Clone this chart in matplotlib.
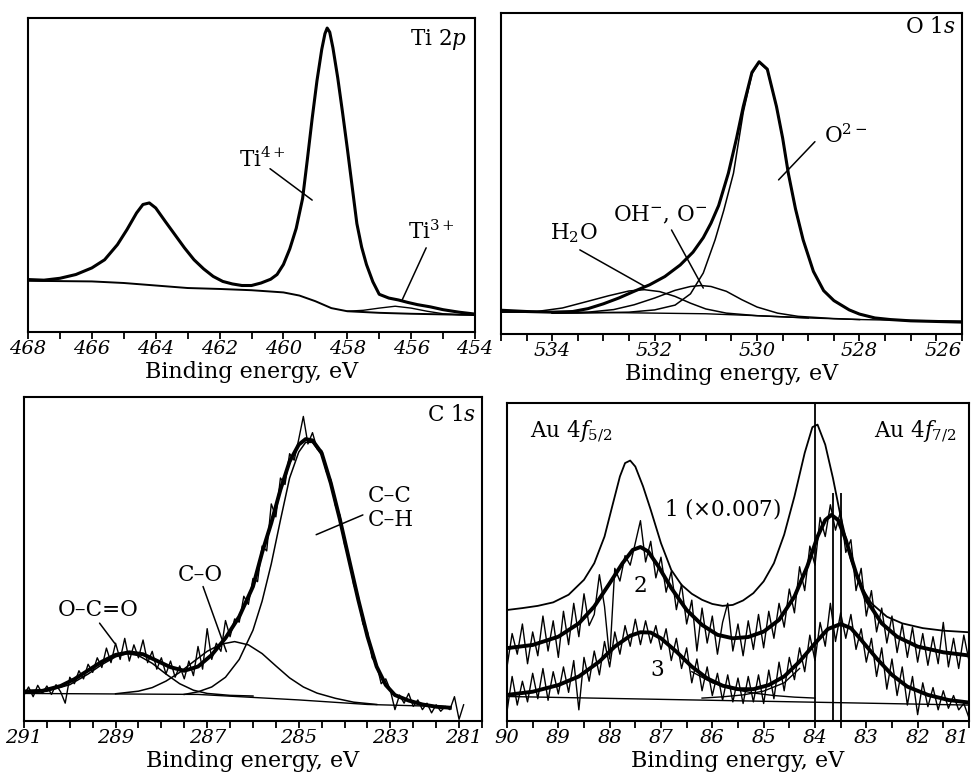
import numpy as np
import matplotlib
matplotlib.use('Agg')
import matplotlib.pyplot as plt

plt.rcParams['font.family'] = 'DejaVu Serif'
plt.rcParams['mathtext.fontset'] = 'dejavuserif'

# ---------------- Ti 2p ----------------
ti_be = [468, 467.5, 467, 466.5, 466, 465.6, 465.2, 464.9, 464.6, 464.4, 464.2, 464.0,
         463.7, 463.4, 463.1, 462.8, 462.5, 462.2, 461.9, 461.6, 461.3, 461.0, 460.7,
         460.4, 460.2, 460.0, 459.8, 459.6, 459.4, 459.25, 459.1, 458.95, 458.8, 458.7,
         458.63, 458.55, 458.45, 458.3, 458.15, 458.0, 457.85, 457.7, 457.55, 457.4,
         457.2, 457.0, 456.7, 456.4, 456.1, 455.8, 455.4, 455.0, 454.5, 454.0]
ti_env = [16.7, 16.5, 17.1, 18.3, 20.4, 23.0, 27.8, 32.6, 37.9, 40.6, 41.1, 39.5,
          35.2, 31.0, 26.8, 23.0, 20.1, 17.7, 16.1, 15.3, 14.8, 14.8, 15.6,
          16.8, 18.3, 21.5, 26.5, 33.0, 42.5, 55.0, 68.0, 80.0, 90.0, 95.0,
          96.8, 95.5, 90.5, 81.0, 70.0, 58.5, 46.5, 34.5, 27.0, 21.5,
          16.0, 12.0, 10.8, 10.2, 9.4, 8.7, 8.0, 7.1, 6.3, 5.7]
ti_bg_be = [468, 466, 465, 464, 463, 462, 461, 460, 459.5, 459.0, 458.5, 458.0, 457.0, 456.0, 455.0, 454.0]
ti_bg = [16.3, 16.1, 15.6, 14.8, 14.0, 13.7, 13.3, 12.6, 11.6, 9.8, 7.6, 6.6, 6.1, 5.8, 5.6, 5.4]
ti3_be = [458.0, 457.5, 457.0, 456.5, 456.0, 455.5, 455.0, 454.5, 454.0]
ti3 = [6.6, 6.9, 7.6, 8.2, 7.6, 6.6, 5.8, 5.5, 5.4]
ti_ticks = [468, 466, 464, 462, 460, 458, 456, 454]

# ---------------- O 1s ----------------
o_be = [535.0, 534.5, 534.0, 533.6, 533.3, 533.0, 532.7, 532.4, 532.1, 531.8, 531.5,
        531.25, 531.05, 530.9, 530.75, 530.56, 530.4, 530.27, 530.1, 529.96, 529.8,
        529.62, 529.5, 529.39, 529.25, 529.1, 528.9, 528.7, 528.5, 528.2, 528.0, 527.7,
        527.4, 527.0, 526.5, 526.0]
o_env = [7.4, 7.0, 6.8, 7.0, 7.9, 9.4, 11.2, 13.3, 15.3, 17.9, 21.5,
         25.5, 30.0, 34.5, 40.0, 50.1, 61.0, 70.8, 81.5, 84.8, 82.5,
         70.8, 61.0, 50.1, 39.0, 29.3, 19.5, 13.5, 10.4, 7.5, 6.2, 5.0,
         4.5, 4.1, 3.9, 3.7]
o2_be = [534.0, 533.5, 532.5, 532.0, 531.6, 531.3, 531.05, 530.82, 530.65, 530.46,
         530.27, 530.1, 529.96, 529.8, 529.62, 529.5, 529.39, 529.25, 529.1, 528.9,
         528.7, 528.5, 528.2, 528.0, 527.7]
o2 = [6.5, 6.5, 6.8, 7.5, 9.0, 12.5, 19.0, 29.3, 38.5, 50.1,
      69.0, 81.0, 84.6, 82.3, 70.8, 61.0, 50.1, 39.0, 29.3, 19.5,
      13.5, 10.4, 7.5, 6.2, 5.0]
oh_be = [534.0, 533.3, 532.8, 532.4, 532.0, 531.6, 531.3, 531.1, 530.9, 530.6, 530.3,
         530.0, 529.6, 529.2, 528.5, 528.0]
oh = [6.5, 6.8, 7.6, 9.1, 11.2, 13.6, 14.8, 15.1, 14.8, 13.3, 10.7, 8.4, 6.5, 5.5, 4.8, 4.5]
h2o_be = [535.0, 534.3, 533.8, 533.3, 532.9, 532.5, 532.2, 531.9, 531.6, 531.3, 531.0,
          530.6, 530.0, 529.0]
h2o = [6.8, 7.0, 8.1, 10.2, 11.9, 13.4, 13.8, 13.2, 11.7, 9.6, 7.8, 6.5, 5.7, 5.0]
o_bg_be = [535, 533, 531, 530, 529, 528, 527, 526]
o_bg = [6.8, 6.7, 6.3, 5.7, 5.0, 4.5, 4.2, 4.0]
o_ticks = [534, 532, 530, 528, 526]

# ---------------- C 1s ----------------
c_be = np.linspace(291.0, 281.4, 97)
c_counts = [8.0, 10.5, 7.5, 11.0, 8.5, 10.8, 8.2, 11.2, 9.0, 5.5,
            13.5, 11.5, 15.5, 13.0, 17.5, 15.0, 19.5, 16.5, 22.5, 18.0,
            24.0, 19.0, 25.5, 18.5, 23.5, 19.5, 25.0, 18.0, 21.5, 16.0,
            19.5, 14.5, 18.5, 13.5, 17.0, 13.0, 18.5, 14.0, 23.0, 16.0,
            28.5, 19.0, 24.0, 21.5, 31.0, 26.0, 31.5, 30.5, 38.5, 36.0,
            44.0, 43.0, 54.0, 52.5, 67.0, 63.0, 75.0, 73.0, 82.5, 80.5,
            87.0, 94.0, 85.5, 89.0, 84.0, 83.5, 77.0, 74.5, 66.5, 63.5,
            54.5, 50.5, 42.0, 38.5, 30.0, 27.5, 19.5, 17.5, 11.5, 13.0,
            9.5, 3.5, 8.0, 5.5, 8.5, 4.5, 6.5, 3.5, 5.5, 2.5,
            5.0, 3.0, 4.5, 3.5, 7.5, 0.5, 5.0]
c_env_be = [291.0, 290.6, 290.2, 289.9, 289.6, 289.3, 289.0, 288.7, 288.4, 288.1, 287.8,
            287.5, 287.2, 286.9, 286.6, 286.3, 286.0, 285.8, 285.6, 285.4, 285.2, 285.0,
            284.85, 284.7, 284.5, 284.3, 284.1, 283.9, 283.7, 283.5, 283.3, 283.1, 282.9,
            282.6, 282.3, 282.0, 281.7]
c_env = [9.1, 9.3, 10.8, 12.9, 15.6, 18.3, 20.4, 21.2, 20.6, 18.6, 16.6,
         15.5, 16.8, 20.4, 25.6, 32.2, 41.5, 52.0, 61.1, 71.4, 80.1, 85.3,
         87.0, 86.6, 82.7, 73.4, 62.1, 49.7, 37.4, 26.1, 16.8, 11.1, 8.0,
         6.3, 5.1, 4.4, 4.1]
c_bg_be = [291.0, 287.2, 285.0, 283.5, 281.7]
c_bg = [8.5, 8.2, 6.5, 5.1, 4.4]
oco_be = [291.0, 290.5, 290.0, 289.6, 289.3, 289.0, 288.75, 288.5, 288.2, 287.9, 287.6,
          287.3, 287.0, 286.5, 286.0]
oco = [8.7, 9.2, 11.2, 14.5, 17.4, 19.8, 20.8, 20.2, 17.8, 14.5, 11.5, 9.5, 8.5, 7.9, 7.7]
co_be = [289.0, 288.5, 288.2, 287.9, 287.6, 287.3, 287.0, 286.7, 286.4, 286.1, 285.8,
         285.5, 285.2, 284.9, 284.6, 284.2, 283.8, 283.3]
co = [8.4, 9.2, 10.3, 12.3, 15.0, 18.3, 21.5, 23.7, 24.5, 23.5, 20.8,
      17.0, 13.3, 10.5, 8.6, 7.0, 5.8, 5.1]
cc_be = [287.5, 287.2, 286.9, 286.6, 286.3, 286.0, 285.8, 285.6, 285.4, 285.2, 285.0,
         284.85, 284.7, 284.5, 284.3, 284.1, 283.9, 283.7, 283.5, 283.3, 283.1, 282.9,
         282.6, 282.3, 281.8]
cc = [8.2, 9.0, 10.5, 13.5, 19.0, 28.0, 37.0, 48.5, 62.0, 75.0, 83.0,
      86.0, 86.0, 82.2, 73.0, 61.8, 49.5, 37.2, 26.0, 16.6, 11.0, 7.9,
      6.2, 5.0, 4.4]
c_ticks = [291, 289, 287, 285, 283, 281]

# ---------------- Au 4f ----------------
au1_be = [90.0, 89.7, 89.4, 89.1, 88.8, 88.5, 88.3, 88.1, 87.95, 87.8, 87.7, 87.6, 87.5,
          87.35, 87.2, 87.0, 86.8, 86.6, 86.4, 86.2, 86.0, 85.8, 85.6, 85.4, 85.2, 85.0,
          84.8, 84.6, 84.4, 84.2, 84.05, 83.95, 83.8, 83.65, 83.5, 83.3, 83.1, 82.9,
          82.6, 82.3, 81.9, 81.5, 81.0]
au1 = [34.9, 35.5, 36.2, 37.3, 39.7, 44.4, 49.6, 58.0, 67.5, 76.9, 81.1, 81.9, 80.0,
       73.8, 66.4, 55.9, 47.5, 42.8, 40.0, 38.1, 36.8, 36.2, 36.5, 37.9, 40.2, 43.9,
       49.6, 58.6, 70.6, 84.3, 92.4, 93.2, 86.9, 76.4, 64.3, 50.7, 42.3, 37.0,
       32.8, 30.7, 29.2, 28.4, 27.9]
au2_be = [90.0, 89.5, 89.0, 88.6, 88.3, 88.0, 87.75, 87.55, 87.4, 87.25, 87.05, 86.8,
          86.5, 86.2, 85.9, 85.6, 85.3, 85.0, 84.7, 84.4, 84.15, 83.95, 83.8, 83.68,
          83.55, 83.4, 83.2, 83.0, 82.7, 82.4, 82.0, 81.5, 81.0]
au2_fit = [22.9, 23.9, 26.5, 30.7, 36.0, 43.3, 49.6, 53.8, 54.7, 53.3, 48.6, 41.8,
           34.9, 30.2, 27.1, 26.0, 26.4, 28.1, 31.8, 39.1, 48.6, 58.0, 63.2, 64.8,
           63.2, 57.0, 46.5, 38.1, 30.7, 26.5, 23.4, 21.6, 20.6]
au3_be = [90.0, 89.5, 89.0, 88.6, 88.2, 87.9, 87.6, 87.4, 87.2, 87.0, 86.7, 86.4, 86.1,
          85.8, 85.5, 85.2, 84.9, 84.6, 84.3, 84.0, 83.75, 83.5, 83.3, 83.1, 82.8, 82.5,
          82.2, 81.8, 81.4, 81.0]
au3_fit = [8.2, 9.2, 11.3, 14.0, 18.7, 23.4, 26.8, 27.9, 27.8, 26.0, 21.8, 17.1, 13.4,
           11.1, 10.0, 10.0, 11.3, 14.0, 18.7, 24.4, 28.9, 30.5, 29.2, 25.5, 19.7, 14.5,
           10.8, 8.2, 6.6, 5.8]
au_grid = np.linspace(90.0, 81.0, 91)
au2_counts = [17.0, 27.5, 21.0, 30.5, 18.0, 28.0, 20.5, 33.0, 22.0, 31.5,
              20.0, 34.5, 24.0, 37.0, 26.5, 40.0, 30.0, 33.5, 46.0, 36.0,
              19.5, 48.0, 44.0, 52.0, 49.0, 56.0, 63.0, 50.0, 56.5, 45.0,
              51.5, 40.5, 47.0, 35.0, 43.0, 30.5, 38.0, 22.0, 35.5, 24.5,
              33.0, 21.0, 31.0, 37.0, 22.0, 30.5, 20.5, 31.5, 22.5, 33.5,
              23.0, 34.5, 26.0, 37.0, 29.5, 41.5, 34.0, 48.5, 41.0, 55.0,
              49.0, 64.0, 58.0, 68.0, 60.0, 66.0, 53.0, 57.0, 41.0, 48.0,
              33.0, 41.0, 28.0, 35.5, 24.5, 33.0, 21.5, 30.5, 20.0, 29.5,
              18.5, 27.5, 17.5, 26.5, 18.0, 31.0, 17.0, 26.0, 16.5, 27.0,
              19.0]
au3_counts = [3.0, 14.0, 5.0, 12.5, 6.0, 15.0, 7.0, 16.5, 6.5, 15.5,
              8.5, 17.0, 9.0, 19.0, 3.5, 20.0, 12.5, 22.0, 14.5, 25.0,
              17.0, 28.0, 21.0, 30.0, 23.5, 32.0, 24.0, 31.5, 24.5, 30.0,
              22.5, 29.0, 19.0, 26.0, 16.5, 23.0, 12.0, 19.5, 9.5, 17.0,
              8.0, 15.0, 6.5, 14.5, 6.0, 13.5, 5.5, 14.0, 6.0, 14.5,
              5.5, 16.0, 7.0, 18.5, 9.5, 20.0, 13.0, 23.0, 15.5, 27.0,
              19.0, 31.0, 23.5, 37.0, 25.0, 34.0, 26.0, 33.5, 22.5, 29.0,
              18.5, 26.0, 14.0, 23.0, 10.0, 19.5, 8.0, 17.0, 5.0, 14.0,
              2.0, 12.0, 4.5, 10.5, 3.5, 9.5, 4.0, 8.0, 3.5, 5.5,
              1.0]
au3a_be = [86.4, 86.0, 85.6, 85.2, 84.8, 84.4, 84.0]
au3a = [15.5, 12.0, 10.0, 8.8, 8.0, 7.5, 7.2]
au3b_be = [86.2, 85.8, 85.4, 85.0, 84.6, 84.3]
au3b = [7.2, 7.6, 8.2, 9.4, 12.0, 16.5]
au_bg_be = [90.0, 81.0]
au_bg = [7.7, 5.0]
au_lines = [84.0, 83.65, 83.5]
au_line_top = [100, 71.7, 71.7]
au_ticks = [90, 89, 88, 87, 86, 85, 84, 83, 82, 81]

fig = plt.figure(figsize=(9.75, 7.76), dpi=100)
axA = fig.add_axes([0.0287, 0.5722, 0.4585, 0.4046])
axB = fig.add_axes([0.5138, 0.5696, 0.4728, 0.4137])
axC = fig.add_axes([0.0246, 0.0709, 0.4697, 0.4175])
axD = fig.add_axes([0.5200, 0.0709, 0.4738, 0.4098])

TICK = 14
LAB = 16
TXT = 15.5


def style(ax, lo, hi, ticks, minor, last_right=False):
    ax.set_xlim(lo, hi)
    ax.set_ylim(0, 100)
    ax.set_yticks([])
    ax.set_xticks(ticks, [str(t) for t in ticks], fontstyle='italic', fontsize=TICK)
    ax.set_xticks(minor, minor=True)
    ax.tick_params(axis='x', which='both', direction='out', length=5, width=1.3, pad=1)
    if last_right:
        ax.get_xticklabels()[-1].set_horizontalalignment('right')
    for s in ax.spines.values():
        s.set_linewidth(1.5)
    ax.set_xlabel('Binding energy, eV', fontsize=LAB, labelpad=2)


def leader(ax, p0, p1):
    ax.annotate('', xy=p1, xytext=p0, arrowprops=dict(arrowstyle='-', lw=1.1, color='k',
                                                         shrinkA=0, shrinkB=0))


# Ti 2p
axA.plot(ti_bg_be, ti_bg, color='k', lw=1.4)
axA.plot(ti3_be, ti3, color='k', lw=1.0)
axA.plot(ti_be, ti_env, color='k', lw=2.2)
style(axA, 468, 454, ti_ticks, np.arange(468, 453.5, -1))
axA.text(0.982, 0.933, r'Ti 2$p$', transform=axA.transAxes, ha='right', va='center', fontsize=TXT)
axA.text(460.67, 54.8, r'Ti$^{4+}$', ha='center', va='center', fontsize=TXT)
leader(axA, (460.42, 52.0), (459.1, 42.0))
axA.text(455.38, 31.8, r'Ti$^{3+}$', ha='center', va='center', fontsize=TXT)
leader(axA, (455.53, 26.8), (456.3, 9.8))

# O 1s
axB.plot(o_bg_be, o_bg, color='k', lw=1.0)
axB.plot(h2o_be, h2o, color='k', lw=1.1)
axB.plot(oh_be, oh, color='k', lw=1.1)
axB.plot(o2_be, o2, color='k', lw=1.1)
axB.plot(o_be, o_env, color='k', lw=2.2)
style(axB, 535, 526, o_ticks, np.arange(535, 525.9, -0.5), last_right=True)
axB.text(0.9855, 0.956, r'O 1$s$', transform=axB.transAxes, ha='right', va='center', fontsize=TXT)
axB.text(528.7, 61.5, r'O$^{2-}$', ha='left', va='center', fontsize=TXT)
leader(axB, (528.87, 59.9), (529.58, 48.0))
axB.text(532.81, 37.1, r'OH$^{-}$, O$^{-}$', ha='left', va='center', fontsize=TXT)
leader(axB, (531.67, 32.4), (531.05, 14.3))
axB.text(534.04, 31.4, r'H$_2$O', ha='left', va='center', fontsize=TXT)
leader(axB, (533.46, 26.2), (532.19, 14.8))

# C 1s
axC.plot(c_bg_be, c_bg, color='k', lw=1.0)
axC.plot(oco_be, oco, color='k', lw=1.1)
axC.plot(co_be, co, color='k', lw=1.1)
axC.plot(cc_be, cc, color='k', lw=1.1)
axC.plot(c_be, c_counts, color='k', lw=1.0)
axC.plot(c_env_be, c_env, color='k', lw=2.8)
style(axC, 291, 281, c_ticks, np.arange(291, 280.9, -0.5), last_right=True)
axC.text(0.988, 0.945, r'C 1$s$', transform=axC.transAxes, ha='right', va='center', fontsize=TXT)
axC.text(283.49, 69.3, 'C–C', ha='left', va='center', fontsize=TXT)
axC.text(283.49, 62.1, 'C–H', ha='left', va='center', fontsize=TXT)
leader(axC, (283.6, 63.6), (284.62, 57.5))
axC.text(287.16, 45.1, 'C–O', ha='center', va='center', fontsize=TXT)
leader(axC, (287.09, 41.5), (286.58, 21.4))
axC.text(289.38, 34.3, 'O–C=O', ha='center', va='center', fontsize=TXT)
leader(axC, (289.35, 30.2), (289.02, 24.0))

# Au 4f
axD.plot(au_bg_be, au_bg, color='k', lw=1.0)
axD.plot(au3a_be, au3a, color='k', lw=1.0)
axD.plot(au3b_be, au3b, color='k', lw=1.0)
axD.plot(au_grid, au3_counts, color='k', lw=1.0)
axD.plot(au_grid, au2_counts, color='k', lw=1.0)
axD.plot(au1_be, au1, color='k', lw=1.3)
axD.plot(au2_be, au2_fit, color='k', lw=2.8)
axD.plot(au3_be, au3_fit, color='k', lw=2.8)
axD.vlines(au_lines, 0, au_line_top, color='k', lw=1.3)
style(axD, 90, 81, au_ticks, np.arange(90, 80.9, -0.5), last_right=True)
axD.text(0.05, 0.911, r'Au 4$f_{5/2}$', transform=axD.transAxes, ha='left', va='center', fontsize=TXT)
axD.text(0.973, 0.911, r'Au 4$f_{7/2}$', transform=axD.transAxes, ha='right', va='center', fontsize=TXT)
axD.text(86.95, 66.9, r'$1$ (×0.007)', ha='left', va='center', fontsize=TXT)
axD.text(87.42, 42.3, r'$2$', ha='center', va='center', fontsize=TXT)
axD.text(87.07, 16.1, r'$3$', ha='center', va='center', fontsize=TXT)

fig.savefig('out.png', dpi=100)
